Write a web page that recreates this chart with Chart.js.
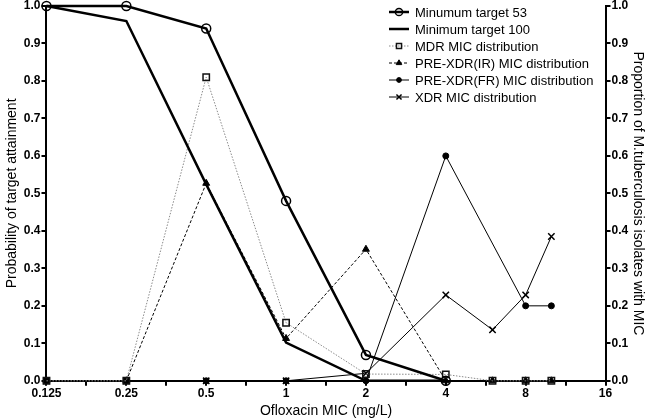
<!DOCTYPE html>
<html>
<head>
<meta charset="utf-8">
<script src="https://cdn.jsdelivr.net/npm/chart.js@4.4.0/dist/chart.umd.min.js"></script>
<style>
  html, body { margin: 0; padding: 0; background: #fff; }
  #wrap { width: 650px; height: 420px; }
</style>
</head>
<body>
<div id="wrap"><canvas id="myChart"></canvas></div>
<script>
/**
 *  ! Data
 * **/
const micValues = [0.125, 0.25, 0.5, 1, 2, 4, 6, 8, 10];
const xTickLabels = ["0.125", "0.25", "0.5", "1", "2", "4", "8", "16"];

const target53 = [1.0, 1.0, 0.94, 0.48, 0.069, 0.0, null, null, null];
const target100 = [1.0, 0.96, 0.524, 0.102, 0.0, 0.0, null, null, null];
const mdrDist = [0, 0, 0.81, 0.155, 0.018, 0.017, 0, 0, 0];
const preXdrIR = [0, 0, 0.527, 0.113, 0.351, 0, 0, 0, 0];
const preXdrFR = [0, 0, 0, 0, 0, 0.6, null, 0.2, 0.2];
const xdrDist = [0, 0, 0, 0, 0.02, 0.229, 0.136, 0.229, 0.385];

const fontName = "'Liberation Sans', Arial, sans-serif";

// x axis runs on log2(MIC)
function toPoints(arr) {
  return micValues.map((m, i) => ({ x: Math.log2(m), y: arr[i] }));
}

/**
 *  ! Legend drawn inside the plot
 * **/
const insideLegend = {
  id: "insideLegend",
  afterDraw(chart) {
    const c = chart.ctx;
    chart.data.datasets.forEach((ds, i) => {
      const y = 12 + i * 17;
      const x0 = 389, x1 = 409, cx = 399;
      c.save();
      c.strokeStyle = ds.borderColor;
      c.lineWidth = ds.borderWidth;
      c.setLineDash(ds.borderDash || []);
      c.beginPath();
      c.moveTo(x0, y);
      c.lineTo(x1, y);
      c.stroke();
      c.setLineDash([]);
      if (ds.pointRadius > 0) {
        c.fillStyle = ds.pointBackgroundColor;
        c.strokeStyle = ds.pointBorderColor;
        c.lineWidth = ds.pointBorderWidth;
        Chart.helpers.drawPoint(c, {
          pointStyle: ds.pointStyle,
          radius: ds.pointRadius * 0.8,
          borderWidth: ds.pointBorderWidth,
          rotation: 0,
        }, cx, y);
      }
      c.fillStyle = "#000";
      c.font = "13px " + fontName;
      c.textBaseline = "middle";
      c.fillText(ds.label, 415, y + 1);
      c.restore();
    });
  },
};

const ctx = document.getElementById("myChart");

new Chart(ctx, {
  type: "line",
  plugins: [insideLegend],
  data: {
    datasets: [
      {
        label: "Minumum target 53",
        data: toPoints(target53),
        borderColor: "#000",
        borderWidth: 2.5,
        pointStyle: "circle",
        pointRadius: 4.5,
        pointBackgroundColor: "rgba(255,255,255,0)",
        pointBorderColor: "#000",
        pointBorderWidth: 1.5,
        yAxisID: "y",
      },
      {
        label: "Minimum target 100",
        data: toPoints(target100),
        borderColor: "#000",
        borderWidth: 2.5,
        pointRadius: 0,
        yAxisID: "y",
      },
      {
        label: "MDR MIC distribution",
        data: toPoints(mdrDist),
        borderColor: "#8a8a8a",
        borderWidth: 1,
        borderDash: [1.5, 1.5],
        pointStyle: "rect",
        pointRadius: 4.5,
        pointBackgroundColor: "rgba(255,255,255,0)",
        pointBorderColor: "#111",
        pointBorderWidth: 1.5,
        yAxisID: "y1",
      },
      {
        label: "PRE-XDR(IR) MIC distribution",
        data: toPoints(preXdrIR),
        borderColor: "#000",
        borderWidth: 1,
        borderDash: [3, 2],
        pointStyle: "triangle",
        pointRadius: 4,
        pointBackgroundColor: "#000",
        pointBorderColor: "#000",
        pointBorderWidth: 1,
        yAxisID: "y1",
      },
      {
        label: "PRE-XDR(FR) MIC distribution",
        data: toPoints(preXdrFR),
        borderColor: "#000",
        borderWidth: 1,
        spanGaps: true,
        pointStyle: "circle",
        pointRadius: 3,
        pointBackgroundColor: "#000",
        pointBorderColor: "#000",
        pointBorderWidth: 1,
        yAxisID: "y1",
      },
      {
        label: "XDR MIC distribution",
        data: toPoints(xdrDist),
        borderColor: "#000",
        borderWidth: 1,
        pointStyle: "crossRot",
        pointRadius: 4.5,
        pointBackgroundColor: "#000",
        pointBorderColor: "#000",
        pointBorderWidth: 1.5,
        yAxisID: "y1",
      },
    ],
  },
  options: {
    responsive: true,
    maintainAspectRatio: false,
    animation: false,
    clip: false,
    layout: { padding: { top: 0, right: 2, left: 4, bottom: 0 } },
    scales: {
      x: {
        type: "linear",
        min: -3,
        max: 4,
        border: { color: "#000", width: 2 },
        grid: {
          drawOnChartArea: false,
          color: "#000",
          lineWidth: 2,
          tickLength: 5,
        },
        ticks: {
          stepSize: 0.5,
          autoSkip: false,
          maxRotation: 0,
          color: "#000",
          padding: 1,
          font: { family: fontName, size: 12, weight: "bold" },
          callback: function (value) {
            if (Number.isInteger(value)) return xTickLabels[value + 3];
            return "";
          },
        },
        title: {
          display: true,
          text: "Ofloxacin MIC (mg/L)",
          color: "#000",
          padding: { top: 1, bottom: 0 },
          font: { family: fontName, size: 14 },
        },
      },
      y: {
        position: "left",
        min: 0,
        max: 1,
        border: { color: "#000", width: 2 },
        grid: {
          drawOnChartArea: false,
          color: "#000",
          lineWidth: 2,
          tickLength: 5,
        },
        ticks: {
          stepSize: 0.1,
          color: "#000",
          padding: 1,
          font: { family: fontName, size: 12, weight: "bold", lineHeight: 0.8 },
          callback: (v) => v.toFixed(1),
        },
        title: {
          display: true,
          text: "Probability of target attainment",
          color: "#000",
          padding: { top: 0, bottom: 2 },
          font: { family: fontName, size: 14 },
        },
      },
      y1: {
        position: "right",
        min: 0,
        max: 1,
        border: { color: "#000", width: 2 },
        grid: {
          drawOnChartArea: false,
          color: "#000",
          lineWidth: 2,
          tickLength: 5,
        },
        ticks: {
          stepSize: 0.1,
          color: "#000",
          padding: 1,
          font: { family: fontName, size: 12, weight: "bold", lineHeight: 0.8 },
          callback: (v) => v.toFixed(1),
        },
        title: {
          display: true,
          text: "Proportion of M.tuberculosis isolates with MIC",
          color: "#000",
          padding: { top: 2, bottom: 0 },
          font: { family: fontName, size: 14 },
        },
      },
    },
    plugins: {
      legend: { display: false },
      tooltip: { enabled: false },
    },
  },
});
</script>
</body>
</html>
